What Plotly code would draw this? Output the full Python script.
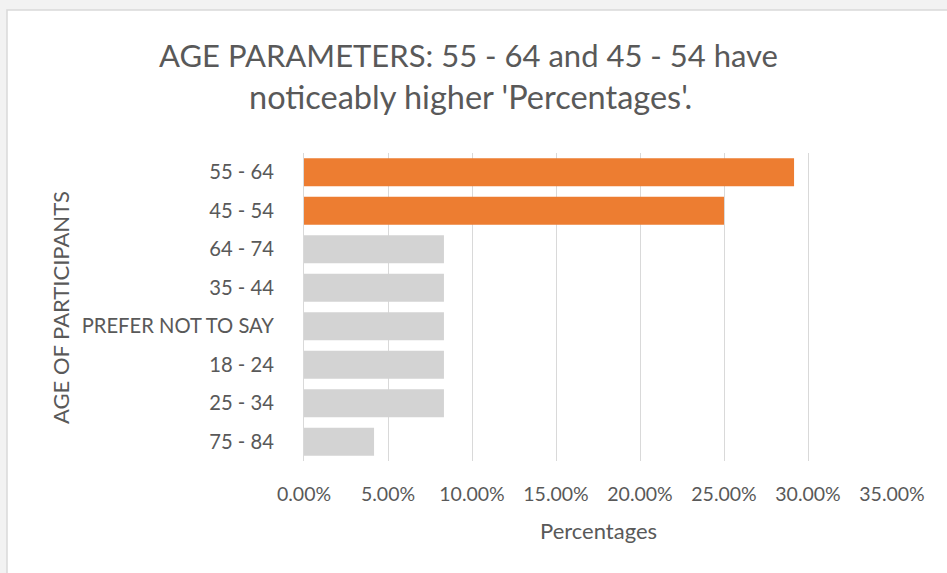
import plotly.graph_objects as go

categories = ["55 - 64", "45 - 54", "64 - 74", "35 - 44", "PREFER NOT TO SAY", "18 - 24", "25 - 34", "75 - 84"]
percentages = [0.2917, 0.25, 0.0833, 0.0833, 0.0833, 0.0833, 0.0833, 0.0417]
highlight = [True, True, False, False, False, False, False, False]
tick_vals = [0, 0.05, 0.10, 0.15, 0.20, 0.25, 0.30, 0.35]
tick_text = ["0.00%", "5.00%", "10.00%", "15.00%", "20.00%", "25.00%", "30.00%", "35.00%"]
title_lines = ["AGE PARAMETERS: 55 - 64 and 45 - 54 have", "noticeably higher 'Percentages'."]
x_title = "Percentages"
y_title = "AGE OF PARTICIPANTS"

ORANGE = "#ED7D31"
GRAY = "#D3D3D3"
TXT = "#595959"
FONT = "Lato"

colors = [ORANGE if h else GRAY for h in highlight]

W, H = 947, 573
L, R, T, B = 304, 55, 153, 112
pw, ph = W - L - R, H - T - B


def px(x):
    return (x - L) / pw


def py(y):
    return (H - B - y) / ph


fig = go.Figure(go.Bar(
    x=percentages, y=categories, orientation="h",
    marker=dict(color=colors, line=dict(width=0)),
    hoverinfo="skip",
))

annotations = [
    dict(text=title_lines[0], x=px(468), y=py(55), xref="paper", yref="paper",
         xanchor="center", yanchor="middle", showarrow=False,
         font=dict(family=FONT, size=31, color=TXT)),
    dict(text=title_lines[1], x=px(470), y=py(97), xref="paper", yref="paper",
         xanchor="center", yanchor="middle", showarrow=False,
         font=dict(family=FONT, size=32.5, color=TXT)),
    dict(text=x_title, x=px(598), y=py(530), xref="paper", yref="paper",
         xanchor="center", yanchor="middle", showarrow=False,
         font=dict(family=FONT, size=22, color=TXT)),
    dict(text=y_title, x=px(60), y=py(308), xref="paper", yref="paper",
         xanchor="center", yanchor="middle", showarrow=False, textangle=-90,
         font=dict(family=FONT, size=22, color=TXT)),
]

fig.update_layout(
    width=W, height=H,
    margin=dict(l=L, r=R, t=T, b=B, pad=0),
    paper_bgcolor="#F2F2F2",
    plot_bgcolor="rgba(0,0,0,0)",
    bargap=0.27,
    showlegend=False,
    font=dict(family=FONT, color=TXT),
    annotations=annotations,
    shapes=[dict(
        type="rect", xref="paper", yref="paper", layer="below",
        x0=px(7), x1=px(960), y0=py(590), y1=py(10),
        fillcolor="white", line=dict(color="#D9D9D9", width=1.5),
    )],
)

fig.update_xaxes(
    range=[0, 0.35], tickvals=tick_vals, ticktext=tick_text,
    showgrid=True, gridcolor="#D9D9D9", gridwidth=1,
    zeroline=False, showline=False,
    ticks="", ticklabelstandoff=19,
    tickfont=dict(size=19.5, color=TXT, family=FONT),
    fixedrange=True,
)

fig.update_yaxes(
    autorange="reversed", categoryorder="array", categoryarray=categories,
    showgrid=False, showline=True, linecolor="#D9D9D9", linewidth=1,
    ticks="", ticklabelstandoff=25,
    tickfont=dict(size=20.2, color=TXT, family=FONT),
    fixedrange=True,
)

fig.write_html("out.html", config=dict(displayModeBar=False))
